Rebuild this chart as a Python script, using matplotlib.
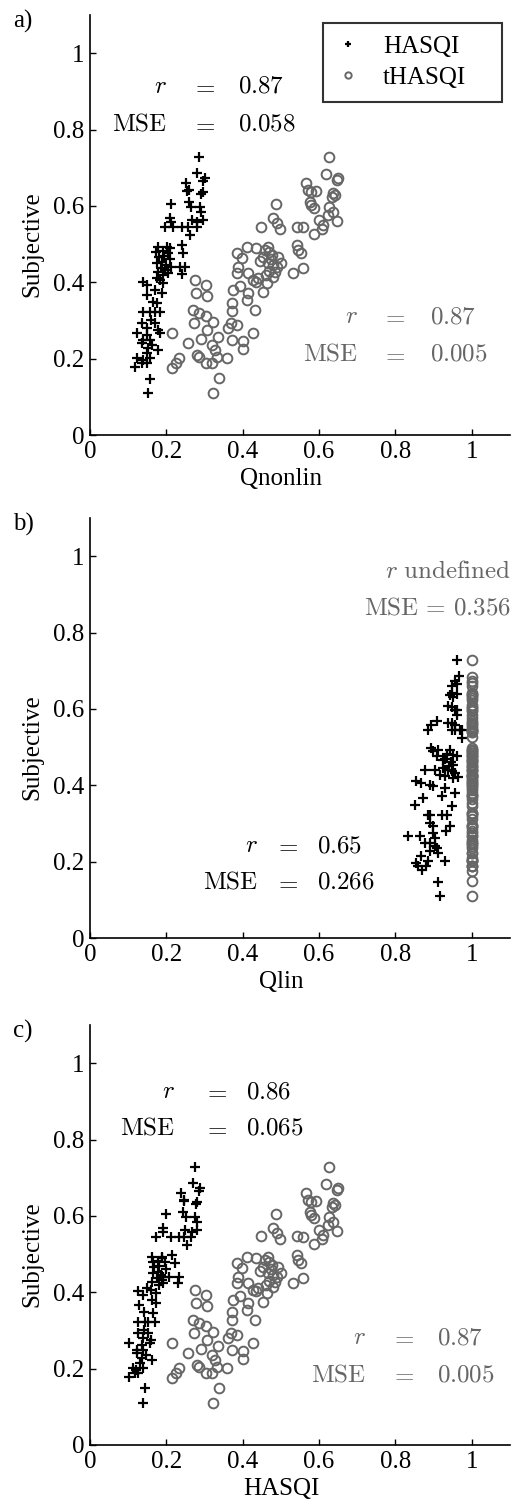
import matplotlib
matplotlib.use("Agg")
import matplotlib.pyplot as plt

plt.rcParams["font.family"] = ["Liberation Serif", "DejaVu Serif"]
plt.rcParams["mathtext.fontset"] = "cm"

GREY = "0.4"

# --- HASQI (crosses): subjective score and the three model values per stimulus ---
subjective = [
    .729, .687, .673, .666, .661, .642, .638, .637, .631, .609, .604, .598, .596, .585, .568,
    .563, .563, .559, .559, .545, .545, .545, .545, .545, .524, .498, .493, .493, .490, .482,
    .480, .478, .476, .470, .465, .462, .452, .450, .445, .441, .441, .440, .438, .432, .428,
    .425, .423, .420, .410, .406, .402, .397, .393, .380, .371, .367, .349, .345, .323, .323,
    .323, .323, .300, .293, .293, .280, .275, .266, .266, .262, .249, .249, .240, .235, .227,
    .223, .215, .202, .201, .196, .189, .188, .179, .148, .111,
]
qnonlin_hasqi = [
    .286, .281, .302, .297, .251, .260, .255, .297, .292, .260, .211, .288, .264, .292, .209,
    .297, .266, .279, .212, .196, .218, .240, .257, .279, .262, .240, .179, .201, .209, .190,
    .172, .205, .244, .195, .180, .210, .188, .175, .200, .236, .249, .212, .185, .197, .178,
    .205, .240, .190, .175, .183, .140, .192, .148, .170, .188, .148, .166, .175, .140, .157,
    .170, .183, .160, .135, .170, .148, .179, .122, .183, .150, .140, .157, .135, .162, .153,
    .179, .150, .157, .122, .140, .148, .135, .118, .157, .153,
]
qlin_hasqi = [
    .962, .966, .955, .960, .949, .947, .960, .942, .951, .938, .947, .960, .955, .960, .908,
    .947, .938, .955, .894, .886, .968, .973, .955, .947, .973, .894, .912, .942, .899, .934,
    .951, .960, .908, .930, .925, .945, .950, .940, .925, .877, .938, .903, .947, .955, .916,
    .930, .964, .951, .855, .868, .890, .899, .930, .955, .921, .873, .851, .947, .890, .921,
    .886, .934, .890, .942, .899, .933, .899, .833, .864, .903, .877, .890, .903, .908, .890,
    .912, .868, .886, .929, .855, .859, .880, .870, .912, .916,
]
hasqi = [
    .275, .271, .288, .285, .238, .246, .245, .280, .278, .244, .200, .276, .252, .280, .190,
    .281, .250, .266, .190, .174, .211, .234, .245, .264, .255, .215, .163, .189, .188, .177,
    .164, .197, .222, .181, .167, .198, .179, .165, .185, .207, .234, .191, .175, .188, .163,
    .191, .231, .181, .150, .159, .125, .173, .138, .162, .173, .129, .141, .166, .125, .145,
    .151, .171, .142, .127, .153, .138, .161, .102, .158, .135, .123, .140, .122, .147, .136,
    .163, .130, .139, .113, .120, .127, .119, .103, .143, .140,
]

# --- tHASQI (circles): Qlin is 1 for every stimulus, so tHASQI equals its Qnonlin ---
subjective_t = [
    .266, .175, .188, .201, .240, .406, .393, .373, .364, .327, .319, .312, .297, .293, .275,
    .258, .251, .210, .204, .236, .223, .205, .188, .189, .201, .149, .111, .280, .293, .288,
    .249, .245, .224, .268, .380, .389, .347, .326, .354, .327, .371, .476, .463, .493, .441,
    .424, .424, .489, .493, .411, .397, .375, .402, .406, .415, .467, .441, .450, .467, .428,
    .472, .546, .568, .555, .539, .604, .424, .546, .729, .684, .668, .672, .661, .642, .637,
    .640, .635, .629, .623, .611, .603, .594, .598, .585, .561, .576, .563, .550, .539, .526,
    .544, .498, .485, .476, .437, .480, .460, .445, .430, .450, .420, .455, .485,
]
thasqi = [
    .214, .216, .225, .234, .257, .275, .305, .277, .307, .269, .286, .304, .323, .273, .307,
    .336, .290, .279, .285, .319, .327, .333, .305, .319, .358, .339, .321, .362, .368, .384,
    .371, .401, .401, .428, .375, .393, .373, .371, .410, .432, .414, .384, .397, .410, .388,
    .384, .414, .436, .467, .441, .463, .454, .436, .428, .480, .493, .489, .467, .454, .484,
    .476, .449, .480, .489, .497, .487, .532, .541, .627, .618, .646, .650, .567, .572, .580,
    .592, .637, .641, .635, .576, .580, .586, .627, .637, .646, .624, .600, .609, .607, .586,
    .557, .541, .545, .552, .557, .470, .475, .480, .470, .500, .460, .445, .458,
]
qlin_thasqi = [1.0] * len(subjective_t)

ticks = [0, 0.2, 0.4, 0.6, 0.8, 1]
tick_labels = ["0", "0.2", "0.4", "0.6", "0.8", "1"]

# annotation columns: (r, MSE, label right x, "=" centre x, value left x, y of r row, y of MSE row)
panels = [
    dict(tag="a)", xlabel="Qnonlin", bottom=0.7121,
         x_h=qnonlin_hasqi, x_t=thasqi,
         black=("0.87", "0.058", .202, .296, .387, .912, .812),
         grey=("0.87", "0.005", .702, .793, .890, .309, .210)),
    dict(tag="b)", xlabel="Qlin", bottom=0.3792,
         x_h=qlin_hasqi, x_t=qlin_thasqi,
         black=("0.65", "0.266", .440, .515, .595, .240, .145),
         grey=None),
    dict(tag="c)", xlabel="HASQI", bottom=0.0437,
         x_h=hasqi, x_t=thasqi,
         black=("0.86", "0.065", .222, .328, .408, .924, .828),
         grey=("0.87", "0.005", .723, .817, .908, .280, .183)),
]

FS = 18


def stat_block(ax, vals, color):
    r_val, mse_val, xl, xe, xv, yr, ym = vals
    for y, lab, val in [(yr, "$r$", r_val), (ym, r"$\mathrm{MSE}$", mse_val)]:
        ax.text(xl, y, lab, ha="right", va="center", fontsize=FS, color=color)
        ax.text(xe, y, "$=$", ha="center", va="center", fontsize=FS, color=color)
        ax.text(xv, y, "$" + val + "$", ha="left", va="center", fontsize=FS, color=color)


fig = plt.figure(figsize=(5.15, 15.11), dpi=100)
W, H = 515, 1511

for p in panels:
    ax = fig.add_axes([90 / W, p["bottom"], 420 / W, 420 / H])
    ax.plot(p["x_h"], subjective, "+", color="k", ms=6.5, mew=1.6, label="HASQI")
    ax.plot(p["x_t"], subjective_t, "o", mfc="none", mec=GREY, ms=7, mew=1.4, label="tHASQI")
    ax.set_xlim(0, 1.1)
    ax.set_ylim(0, 1.1)
    ax.set_xticks(ticks)
    ax.set_xticklabels(tick_labels)
    ax.set_yticks(ticks)
    ax.set_yticklabels(tick_labels)
    ax.tick_params(direction="in", length=4, width=1, labelsize=FS, pad=4)
    for side in ("top", "right"):
        ax.spines[side].set_visible(False)
    for side in ("left", "bottom"):
        ax.spines[side].set_linewidth(1.2)

    ax.text(0.5 / 1.1, -0.105, p["xlabel"], transform=ax.transAxes,
            ha="center", va="center", fontsize=FS)
    ax.text(-0.138, 0.5 / 1.1, "Subjective", transform=ax.transAxes, rotation=90,
            ha="center", va="center", fontsize=FS)
    top_px = H - (p["bottom"] * H + 420)
    fig.text(13 / W, 1 - (top_px + 6) / H, p["tag"], ha="left", va="center", fontsize=FS)

    stat_block(ax, p["black"], "k")
    if p["grey"] is not None:
        stat_block(ax, p["grey"], GREY)

    if p["tag"] == "a)":
        leg = ax.legend(loc="upper left", bbox_to_anchor=(0.555, 0.783, 0.426, 0.198),
                        mode="expand", borderaxespad=0, fancybox=False, edgecolor="k",
                        fontsize=FS, handlelength=1.0, handletextpad=0.9,
                        borderpad=0.5, labelspacing=0.35, markerscale=0.65)
        leg.get_frame().set_linewidth(1.5)
    if p["tag"] == "b)":
        ax.text(1.102, .958, r"$r\ \mathrm{undefined}$", ha="right", va="center",
                fontsize=FS, color=GREY)
        ax.text(1.102, .862, r"$\mathrm{MSE}\,=\,0.356$", ha="right", va="center",
                fontsize=FS, color=GREY)

fig.savefig("out.png", dpi=100)
